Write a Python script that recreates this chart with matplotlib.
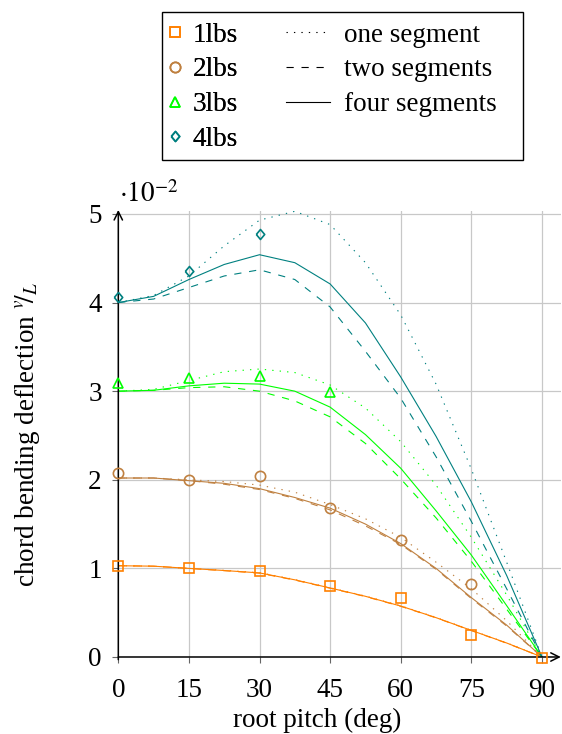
import matplotlib
matplotlib.use("Agg")
import matplotlib.pyplot as plt
from matplotlib.lines import Line2D
from matplotlib.patches import Rectangle

plt.rcParams["font.family"] = ["Liberation Serif", "DejaVu Serif"]
plt.rcParams["mathtext.fontset"] = "stix"

# root pitch (deg) where the curves were read
pitch = [0, 7.5, 15, 22.5, 30, 37.5, 45, 52.5, 60, 67.5, 75, 82.5, 90]

# chord bending deflection v/L, in units of 1e-2
lbs1_one = [1.03, 1.025, 1.0, 0.978, 0.952, 0.875, 0.782, 0.688, 0.578, 0.447, 0.302, 0.16, 0]
lbs1_two = [1.03, 1.025, 1.0, 0.974, 0.946, 0.868, 0.776, 0.682, 0.572, 0.442, 0.298, 0.156, 0]
lbs1_four = [1.03, 1.025, 1.0, 0.976, 0.949, 0.871, 0.779, 0.685, 0.575, 0.444, 0.3, 0.158, 0]

lbs2_one = [2.02, 2.02, 2.0, 1.98, 1.94, 1.86, 1.72, 1.56, 1.35, 1.07, 0.77, 0.41, 0]
lbs2_two = [2.02, 2.02, 1.99, 1.95, 1.89, 1.79, 1.66, 1.48, 1.27, 0.99, 0.66, 0.35, 0]
lbs2_four = [2.02, 2.02, 1.99, 1.96, 1.9, 1.8, 1.68, 1.5, 1.28, 1.0, 0.67, 0.36, 0]

lbs3_one = [3.0, 3.02, 3.12, 3.22, 3.25, 3.21, 3.07, 2.81, 2.43, 1.94, 1.35, 0.7, 0]
lbs3_two = [3.0, 3.01, 3.04, 3.05, 3.0, 2.89, 2.71, 2.41, 2.01, 1.57, 1.08, 0.54, 0]
lbs3_four = [3.0, 3.01, 3.06, 3.09, 3.08, 3.0, 2.82, 2.51, 2.13, 1.65, 1.15, 0.58, 0]

lbs4_one = [4.0, 4.08, 4.3, 4.64, 4.93, 5.03, 4.88, 4.45, 3.86, 3.08, 2.12, 1.07, 0]
lbs4_two = [4.0, 4.04, 4.17, 4.3, 4.37, 4.26, 3.95, 3.45, 2.92, 2.26, 1.53, 0.77, 0]
lbs4_four = [4.0, 4.07, 4.26, 4.43, 4.54, 4.45, 4.21, 3.77, 3.16, 2.49, 1.75, 0.92, 0]

# measured points
meas1_x = [0, 15, 30, 45, 60, 75, 90]
meas1_y = [1.03, 1.0, 0.975, 0.805, 0.67, 0.25, -0.01]
meas2_x = [0, 15, 30, 45, 60, 75]
meas2_y = [2.08, 2.0, 2.04, 1.68, 1.32, 0.82]
meas3_x = [0, 15, 30, 45]
meas3_y = [3.09, 3.15, 3.17, 2.99]
meas4_x = [0, 15, 30]
meas4_y = [4.06, 4.36, 4.77]

labels = ["1lbs", "2lbs", "3lbs", "4lbs"]
model_labels = ["one segment", "two segments", "four segments"]
xticks = [0, 15, 30, 45, 60, 75, 90]
yticks = [0, 1, 2, 3, 4, 5]

# pgfplots-like rhombus mark
rhombus = [(-0.42, 0), (0, 0.5), (0.42, 0), (0, -0.5), (-0.42, 0)]

colors = ["#ff8000", "#bf8040", "#00ff00", "#008080"]
markers = ["s", "o", "^", rhombus]
msizes = [7.2, 7.4, 7.8, 7.2]
dotted = (0, (1.2, 5.5))
dashed = (0, (6.5, 7.0))
styles = [dotted, dashed, "-"]

FS = 19.5
W, H = 562, 734

fig = plt.figure(figsize=(W / 100, H / 100), dpi=100)
# axes: x from 0 to 94 deg, y from 0 to 5.03
ax = fig.add_axes([118.3 / W, 77 / H, 442.5 / W, 445.7 / H])

curves = [
    (lbs1_one, lbs1_two, lbs1_four),
    (lbs2_one, lbs2_two, lbs2_four),
    (lbs3_one, lbs3_two, lbs3_four),
    (lbs4_one, lbs4_two, lbs4_four),
]
meas = [(meas1_x, meas1_y), (meas2_x, meas2_y), (meas3_x, meas3_y), (meas4_x, meas4_y)]

for i in range(4):
    for ys, ls in zip(curves[i], styles):
        ax.plot(pitch, ys, color=colors[i], lw=0.8, ls=ls, zorder=3)
    mx, my = meas[i]
    ax.plot(mx, my, ls="none", marker=markers[i], ms=msizes[i], mfc="none",
            mec=colors[i], mew=1.2, zorder=4, clip_on=False)

ax.set_xlim(0, 94)
ax.set_ylim(0, 5.03)
ax.set_xticks(xticks)
ax.set_yticks(yticks)
ax.grid(True, color="#c8c8c8", lw=0.9, zorder=0)
ax.set_axisbelow(True)
for s in ax.spines.values():
    s.set_visible(False)
ax.tick_params(labelsize=FS, direction="out", length=4, width=0.8, color="#666666")
ax.tick_params(axis="x", pad=11)
ax.tick_params(axis="y", pad=8)

# axis lines with arrow heads
ax.annotate("", xy=(1, 0), xytext=(0, 0), xycoords="axes fraction",
            arrowprops=dict(arrowstyle="->", lw=1.1, color="black",
                            shrinkA=0, shrinkB=0, mutation_scale=15))
ax.annotate("", xy=(0, 1.003), xytext=(0, -0.006), xycoords="axes fraction",
            arrowprops=dict(arrowstyle="->", lw=1.1, color="black",
                            shrinkA=0, shrinkB=0, mutation_scale=15))

fig.text(119 / W, 1 - 202 / H, r"$\cdot 10^{-2}$", fontsize=FS, va="baseline", ha="left")
fig.text(317 / W, 1 - 727 / H, "root pitch (deg)", fontsize=FS, va="baseline", ha="center")
fig.text(28 / W, 1 - 434 / H, r"chord bending deflection $^{v}\!/_{L}$",
         fontsize=FS, rotation=90, va="center", ha="center")

# legend: markers column and line-style column inside one frame
h_marks = [Line2D([], [], ls="none", marker=m, ms=s, mfc="none", mec=c, mew=1.2)
           for m, s, c in zip(markers, msizes, colors)]
h_lines = [Line2D([], [], color="black", lw=0.8, ls=ls) for ls in styles]

leg_a = fig.legend(h_marks, labels, loc="upper left", bbox_to_anchor=(164 / W, 1 - 22.5 / H),
                   frameon=False, fontsize=FS, handlelength=0.8, handletextpad=0.26,
                   labelspacing=0.36, borderpad=0, borderaxespad=0)
leg_b = fig.legend(h_lines, model_labels, loc="upper left", bbox_to_anchor=(286 / W, 1 - 22.5 / H),
                   frameon=False, fontsize=FS, handlelength=1.63, handletextpad=0.5,
                   labelspacing=0.36, borderpad=0, borderaxespad=0)
fig.add_artist(leg_a)
fig.patches.append(Rectangle((161.7 / W, 1 - 160 / H), (522.5 - 161.7) / W, (160 - 11.7) / H,
                             transform=fig.transFigure, fill=False, ec="black", lw=1.0))

fig.savefig("out.png", dpi=100)
